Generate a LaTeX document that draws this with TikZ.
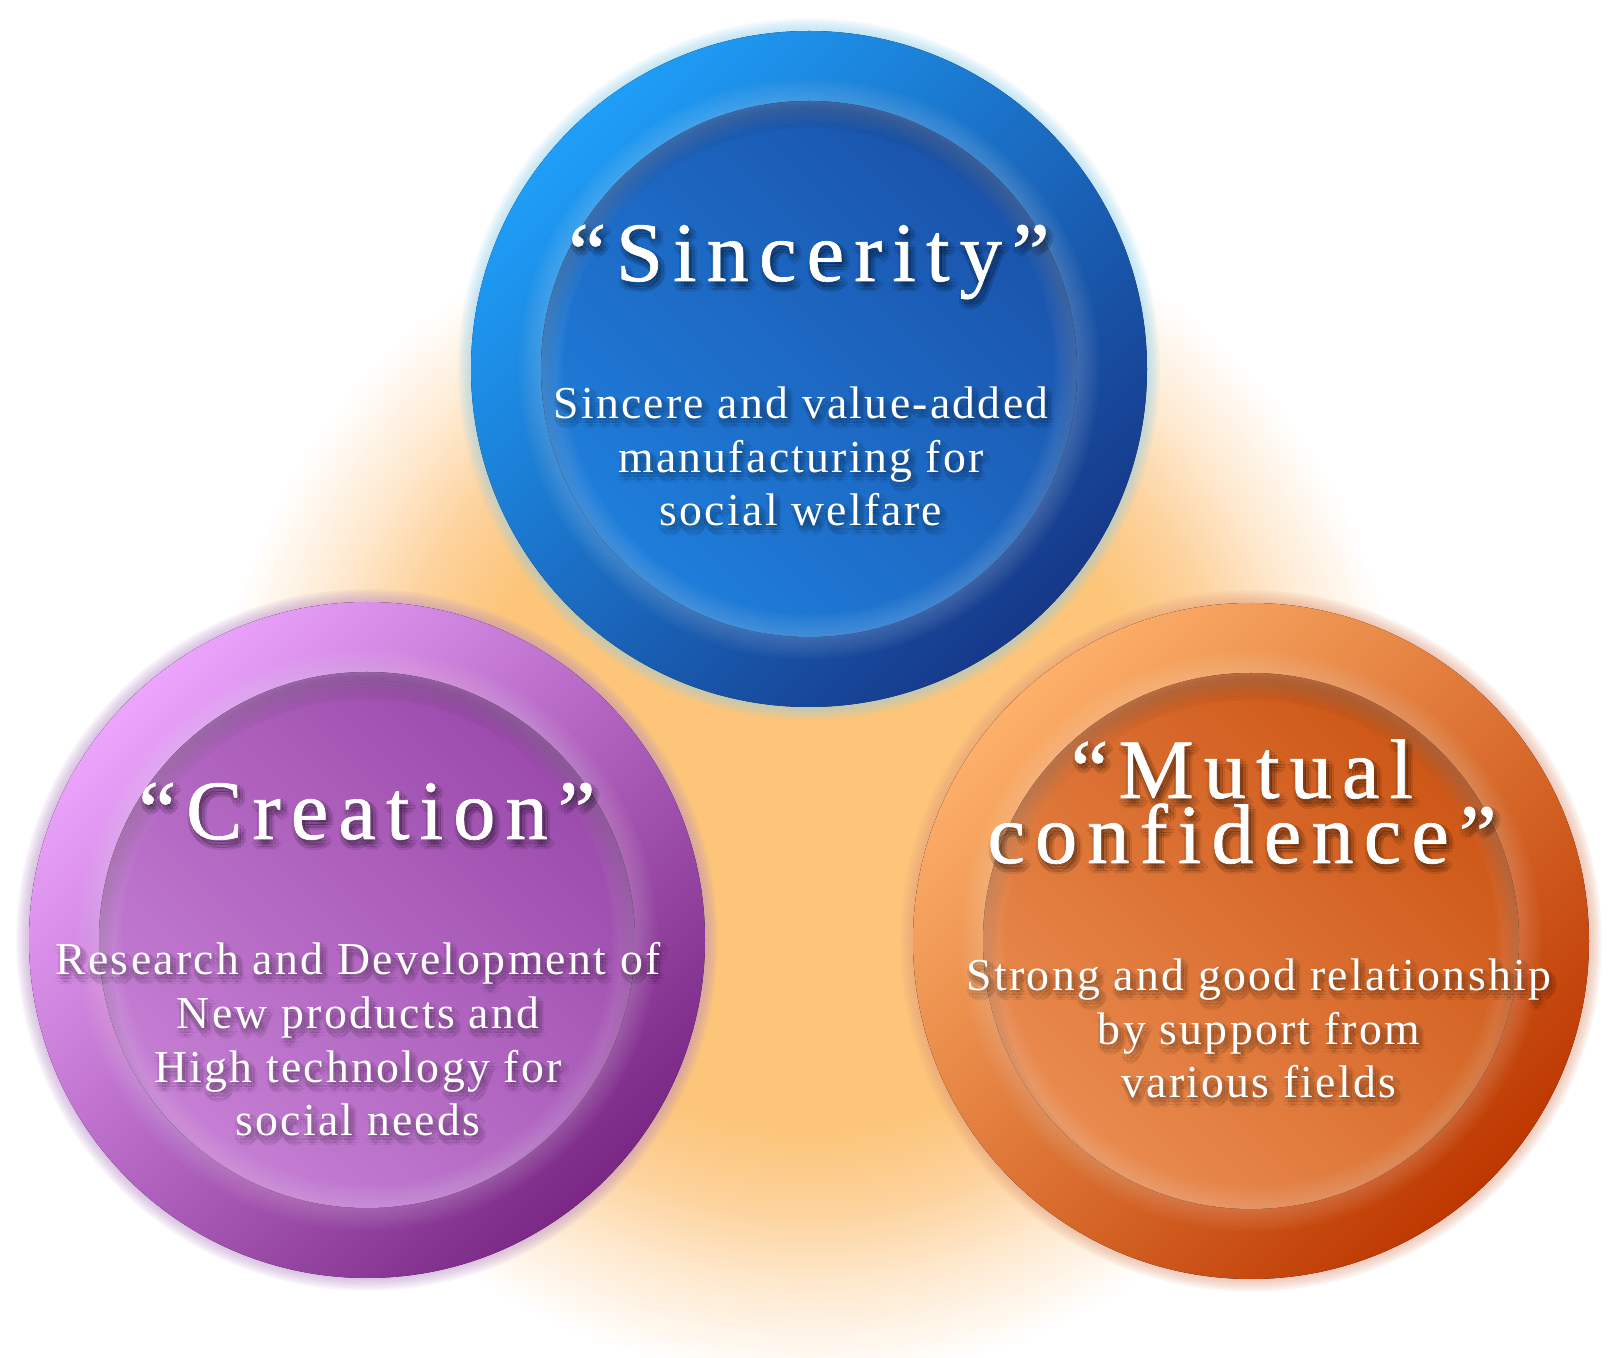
\documentclass[tikz,border=0pt]{standalone}
\usepackage{fontspec}
\newfontfamily\titlefamily[LetterSpace=12,FakeBold=0.8]{Liberation Serif}
\newfontfamily\bodyfamily[LetterSpace=5]{Liberation Serif}
\newcommand{\titlefont}{\titlefamily\fontsize{24}{18.5}\selectfont}
\newcommand{\bodyfont}{\bodyfamily\fontsize{13}{15.3}\selectfont}
% background glow
\definecolor{peachA}{HTML}{FCC57A}
\definecolor{peachB}{HTML}{FDD29C}
\definecolor{peachC}{HTML}{FEE9CF}
\pgfdeclareradialshading{peachglow}{\pgfpointorigin}{color(0bp)=(peachA); color(7.2bp)=(peachA); color(8.8bp)=(peachB); color(10.4bp)=(peachC); color(12.3bp)=(white); color(50bp)=(white)}
% disc colours
\definecolor{blueLight}{HTML}{1E9EF8}
\definecolor{blueDark}{HTML}{163889}
\definecolor{blueInTop}{HTML}{1A52AA}
\definecolor{blueInBot}{HTML}{1F7FDC}
\definecolor{blueGlow}{HTML}{8FD0F0}
\definecolor{purpLight}{HTML}{ECA4FD}
\definecolor{purpDark}{HTML}{7A2785}
\definecolor{purpInTop}{HTML}{9A49AA}
\definecolor{purpInBot}{HTML}{C680D5}
\definecolor{purpGlow}{HTML}{B98CC8}
\definecolor{orngLight}{HTML}{FDB06A}
\definecolor{orngDark}{HTML}{BD3800}
\definecolor{orngInTop}{HTML}{CC5515}
\definecolor{orngInBot}{HTML}{EA8C50}
\definecolor{orngGlow}{HTML}{E49A7A}
\tikzset{
  title/.style={font=\titlefont, text=white, align=center, anchor=base, inner sep=0pt},
  body/.style={font=\bodyfont, text=white, align=center, anchor=base, inner sep=0pt},
}
% #1 x, #2 y, #3/#4 rim light/dark, #5/#6 inner dark/light, #7 glow
\newcommand{\valuedisc}[7]{%
  \foreach \g in {1,...,6}
    \draw[#7, opacity=0.1, line width=\g*1.2pt] (#1,#2) circle (338);
  \fill[top color=#3, bottom color=#4, shading angle=45] (#1,#2) circle (338);
  \fill[top color=#5, bottom color=#6, shading angle=-45] (#1,#2) circle (268);
  \begin{scope}
    \clip (#1,#2) circle (268);
    \foreach \g in {1,...,6}
      \draw[black, opacity=0.03, line width=\g*2pt] (#1,{#2+14}) circle (276);
  \end{scope}
  \foreach \g in {1,...,8}
    \draw[white, opacity=0.025, line width=\g*1.6pt] (#1,#2) circle (268);
}
% #1 name, #2 style, #3 x, #4 y, #5 text
\newcommand{\shadedlabel}[5]{%
  \foreach \dx/\dy in {0/2,6/2,0/8,6/8,3/5,3/0,3/10,-2/5,8/5}
    \node[#2, text=black, text opacity=0.07] at ({#3+\dx},{#4+\dy}) {#5};
  \node[#2] (#1) at (#3,#4) {#5};
}

\begin{document}
\begin{tikzpicture}[x=0.01cm,y=-0.01cm]
\useasboundingbox (0,0) rectangle (1620,1358);
\begin{scope}
  \clip (0,0) rectangle (1620,1358);
  \fill[shading=peachglow] (809,780) circle (1220);
\end{scope}

% the three discs
\valuedisc{809}{369}{blueLight}{blueDark}{blueInTop}{blueInBot}{blueGlow}
\valuedisc{367}{940}{purpLight}{purpDark}{purpInTop}{purpInBot}{purpGlow}
\valuedisc{1251}{941}{orngLight}{orngDark}{orngInTop}{orngInBot}{orngGlow}

% labels (base = last line)
\shadedlabel{sincerity}{title}{809}{281}{“Sincerity”}
\shadedlabel{sincerity-txt}{body}{801}{526}{Sincere and value-added\\manufacturing for\\social welfare}
\shadedlabel{creation}{title}{367}{839}{“Creation”}
\shadedlabel{creation-txt}{body}{358}{1136}{Research and Development of\\New products and\\High technology for\\social needs}
\shadedlabel{mutual}{title}{1242}{863}{“Mutual\\confidence”}
\shadedlabel{mutual-txt}{body}{1259}{1098}{Strong and good relationship\\by support from\\various fields}
\end{tikzpicture}
\end{document}
